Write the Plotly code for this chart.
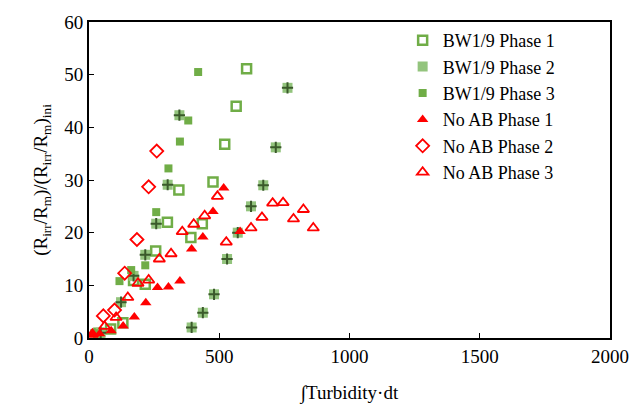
import plotly.graph_objects as go

# BW1/9 Phase 1 (open green squares)
bw1_x = [605, 565, 521, 345, 476, 301, 435, 391, 256, 171, 216, 130, 83, 38]
bw1_y = [51.1, 44.0, 36.8, 28.1, 29.6, 22.0, 21.7, 19.1, 16.5, 10.9, 10.2, 2.9, 1.7, 0.9]

# BW1/9 Phase 2 (light green square with dark cross)
bw2_x = [347, 762, 717, 302, 669, 622, 258, 571, 216, 171, 123, 530, 480, 437, 394, 45]
bw2_y = [42.3, 47.5, 36.2, 29.1, 29.0, 25.0, 21.7, 20.0, 15.8, 11.8, 6.8, 15.0, 8.3, 4.8, 2.0, 1.0]

# BW1/9 Phase 3 (filled green squares)
bw3_x = [419, 381, 349, 305, 258, 216, 162, 117, 20]
bw3_y = [50.5, 41.3, 37.3, 32.2, 23.9, 13.8, 12.9, 10.8, 0.9]

# No AB Phase 1 (filled red triangles)
nab1_x = [13, 41, 85, 131, 174, 218, 263, 305, 349, 394, 437, 476, 517, 580]
nab1_y = [0.7, 0.8, 1.4, 2.3, 4.0, 6.7, 9.6, 9.7, 10.8, 16.9, 19.2, 24.0, 28.5, 20.2]

# No AB Phase 2 (open red diamonds)
nab2_x = [55, 98, 137, 184, 229, 260]
nab2_y = [4.2, 5.3, 12.3, 18.7, 28.7, 35.5]

# No AB Phase 3 (open red triangles)
nab3_x = [13, 60, 104, 149, 188, 229, 270, 315, 358, 402, 444, 493, 527,
          622, 664, 705, 745, 785, 823, 861]
nab3_y = [0.7, 2.2, 3.9, 7.7, 10.4, 11.0, 15.0, 16.0, 20.2, 21.6, 23.2, 26.9, 18.2,
          20.9, 22.9, 25.6, 25.7, 22.6, 24.4, 20.9]

GREEN = "#70ad47"
LIGHT = "#93c47d"
DARK = "#3a5a2a"
RED = "#ff0000"
SERIF = '"Liberation Serif", "Times New Roman", serif'

fig = go.Figure()
fig.add_trace(go.Scatter(x=bw1_x, y=bw1_y, mode="markers", name="BW1/9 Phase 1",
                         marker=dict(symbol="square-open", size=9, color=GREEN,
                                     line=dict(width=2.5, color=GREEN))))
fig.add_trace(go.Scatter(x=bw2_x, y=bw2_y, mode="markers", name="BW1/9 Phase 2",
                         marker=dict(symbol="square", size=10, color=LIGHT,
                                     line=dict(width=0))))
fig.add_trace(go.Scatter(x=bw2_x, y=bw2_y, mode="markers", showlegend=False,
                         hoverinfo="skip",
                         marker=dict(symbol="cross-thin-open", size=8, color=DARK,
                                     line=dict(width=2, color=DARK))))
fig.add_trace(go.Scatter(x=bw3_x, y=bw3_y, mode="markers", name="BW1/9 Phase 3",
                         marker=dict(symbol="square", size=8, color=GREEN,
                                     line=dict(width=0))))
fig.add_trace(go.Scatter(x=nab1_x, y=nab1_y, mode="markers", name="No AB Phase 1",
                         marker=dict(symbol="triangle-up", size=10, color=RED,
                                     line=dict(width=0))))
fig.add_trace(go.Scatter(x=nab2_x, y=nab2_y, mode="markers", name="No AB Phase 2",
                         marker=dict(symbol="diamond-open", size=10, color=RED,
                                     line=dict(width=1.8, color=RED))))
fig.add_trace(go.Scatter(x=nab3_x, y=nab3_y, mode="markers", name="No AB Phase 3",
                         marker=dict(symbol="triangle-up-open", size=10, color=RED,
                                     line=dict(width=1.8, color=RED))))

font = dict(family=SERIF, size=19, color="black")

fig.update_layout(
    width=641, height=412,
    margin=dict(l=89, r=26, t=14, b=71),
    paper_bgcolor="white", plot_bgcolor="white",
    font=font,
    showlegend=True,
    legend=dict(x=0.602, y=1.0, xanchor="left", yanchor="top",
                bgcolor="rgba(0,0,0,0)", font=dict(family=SERIF, size=18),
                itemsizing="trace"),
    xaxis=dict(range=[0, 2000], dtick=500, showgrid=False, zeroline=False,
               showline=True, linecolor="black", linewidth=2, mirror=True,
               ticks="inside", ticklen=5, tickcolor="black",
               tickfont=dict(family=SERIF, size=19),
               title=dict(text="∫Turbidity·dt", standoff=20,
                          font=dict(family=SERIF, size=19))),
    yaxis=dict(range=[0, 60], dtick=10, showgrid=False, zeroline=False,
               showline=True, linecolor="black", linewidth=2, mirror=True,
               ticks="inside", ticklen=5, tickcolor="black",
               tickfont=dict(family=SERIF, size=19),
               title=dict(text="(R<sub>irr</sub>/R<sub>m</sub>)/(R<sub>irr</sub>/R<sub>m</sub>)<sub>ini</sub>",
                          standoff=12, font=dict(family=SERIF, size=19))),
)

fig.write_html("out.html")
